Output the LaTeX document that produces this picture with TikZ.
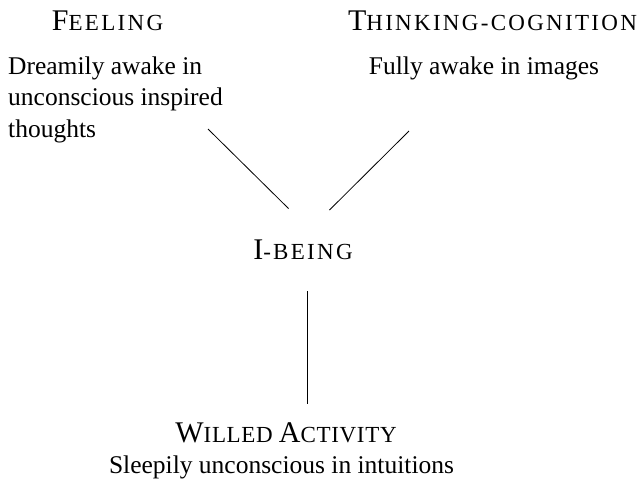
\documentclass[tikz,border=0pt]{standalone}
\usepackage{fontspec}
\setmainfont{Liberation Serif}
\newcommand\bodyfont{\fontsize{25.5}{31.5}\selectfont}
\newcommand\capA{\fontsize{30}{30}\selectfont}
\newcommand\capB{\fontsize{23}{30}\selectfont\addfontfeature{LetterSpace=10}}
\newcommand\capC{\fontsize{23}{30}\selectfont\addfontfeature{LetterSpace=3}}
\newcommand\hd[2]{{\capA #1}{\capB #2}}
\newcommand\hdc[2]{{\capA #1}{\capC #2}}
\tikzset{
  body/.style={inner sep=0pt, font=\bodyfont},
  head/.style={inner sep=0pt, font=\capA},
  link/.style={line width=0.8pt, black}
}
\begin{document}
\begin{tikzpicture}[x=1pt,y=1pt]
\useasboundingbox (0,0) rectangle (643,-491);
% headings
\node[head, anchor=base] (feeling) at (107.5,-30) {\hd{F}{EELING}};
\node[head, anchor=base] (thinking) at (492.5,-30) {\hd{T}{HINKING-COGNITION}};
\node[head, anchor=base] (ibeing) at (303,-259) {\hd{I}{-BEING}};
\node[head, anchor=base] (willed) at (286,-442) {\hdc{W}{ILLED}\hspace{0.2em}\hdc{A}{CTIVITY}};
% descriptions
\node[body, anchor=base west] (feel1) at (8,-74) {Dreamily awake in};
\node[body, anchor=base west] (feel2) at (8,-105.5) {unconscious inspired};
\node[body, anchor=base west] (feel3) at (8,-137) {thoughts};
\node[body, anchor=base] (think1) at (484,-74) {Fully awake in images};
\node[body, anchor=base] (will1) at (281.5,-473) {Sleepily unconscious in intuitions};
% connector end points
\coordinate (lt) at (208,-129);
\coordinate (lb) at (288.5,-208.5);
\coordinate (rt) at (409,-131);
\coordinate (rb) at (329.5,-210);
\coordinate (vt) at (307.3,-291);
\coordinate (vb) at (307.3,-404);
\draw[link] (lt) -- (lb);
\draw[link] (rt) -- (rb);
\draw[link] (vt) -- (vb);
\end{tikzpicture}
\end{document}
